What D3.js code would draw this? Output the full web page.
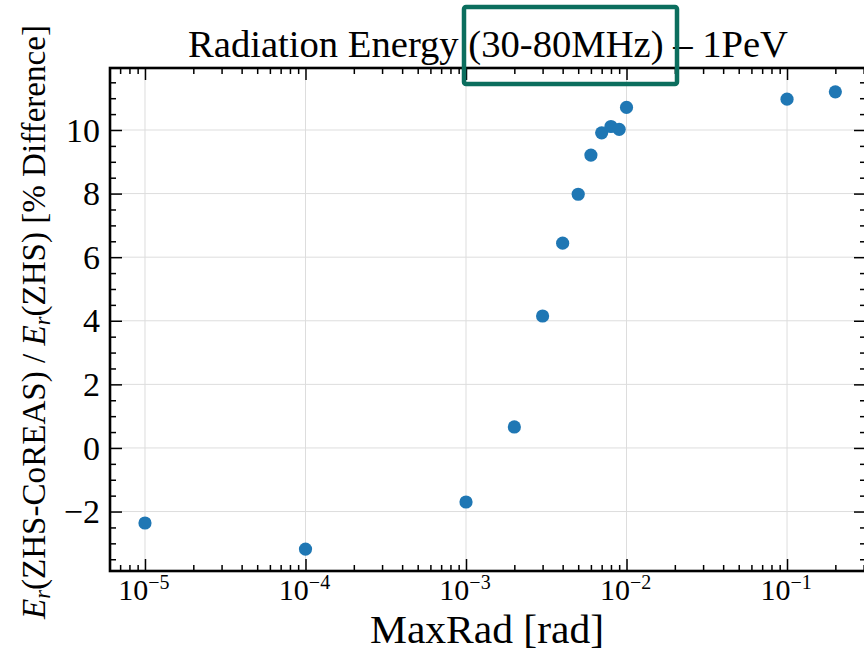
<!DOCTYPE html>
<html>
<head>
<meta charset="utf-8">
<script src="https://cdn.jsdelivr.net/npm/d3@7"></script>
<style>
  html, body { margin: 0; padding: 0; background: #ffffff; }
  svg { display: block; }
  text { font-family: "Liberation Serif", "DejaVu Serif", serif; fill: #000; }
</style>
</head>
<body>
<svg id="chart" width="864" height="655"></svg>
<script>
// ---- data ----
const maxRad = [1e-5, 1e-4, 1e-3, 2e-3, 3e-3, 4e-3, 5e-3, 6e-3, 7e-3, 8e-3, 9e-3, 1e-2, 1e-1, 2e-1];
const pctDiff = [-2.36, -3.18, -1.70, 0.66, 4.15, 6.44, 7.98, 9.21, 9.91, 10.11, 10.02, 10.71, 10.97, 11.20];
const xMajorExp = [-5, -4, -3, -2, -1];
const yTicks = [-2, 0, 2, 4, 6, 8, 10];
const titleText = "Radiation Energy (30-80MHz) \u2013 1PeV";
const xLabelText = "MaxRad [rad]";

// ---- layout ----
const L = 110, R = 866, T = 68, B = 571;
const svg = d3.select("#chart");

const x = d3.scaleLog().domain([Math.pow(10, -5.218), Math.pow(10, -0.508)]).range([L, R]);
const y = d3.scaleLinear().domain([-3.87, 11.95]).range([B, T]);

// minor ticks
const xMinor = [];
for (let e = -6; e <= 0; e++) for (let m = 2; m <= 9; m++) {
  const v = m * Math.pow(10, e);
  if (v >= x.domain()[0] && v <= x.domain()[1]) xMinor.push(v);
}
const xMajor = xMajorExp.map(e => Math.pow(10, e));
const yMinor = d3.range(-3.5, 12, 0.5).filter(v => v >= y.domain()[0] && v <= y.domain()[1] && !yTicks.includes(v));
const yMajorAll = d3.range(-2, 12, 2).filter(v => v <= y.domain()[1]);

// grid
const grid = svg.append("g");
grid.selectAll(".gx").data(xMajor).join("line")
  .attr("x1", d => x(d)).attr("x2", d => x(d)).attr("y1", T).attr("y2", B)
  .attr("stroke", "#dddddd").attr("stroke-width", 1);
grid.selectAll(".gy").data(yMajorAll).join("line")
  .attr("x1", L).attr("x2", R).attr("y1", d => y(d)).attr("y2", d => y(d))
  .attr("stroke", "#dddddd").attr("stroke-width", 1);

// axes with inward ticks
const axB = svg.append("g").attr("transform", `translate(0,${B})`);
axB.call(d3.axisTop(x).tickValues(xMajor).tickSize(12).tickFormat(""));
const axBm = svg.append("g").attr("transform", `translate(0,${B})`);
axBm.call(d3.axisTop(x).tickValues(xMinor).tickSize(6).tickFormat(""));
const axT = svg.append("g").attr("transform", `translate(0,${T})`);
axT.call(d3.axisBottom(x).tickValues(xMajor).tickSize(12).tickFormat(""));
const axTm = svg.append("g").attr("transform", `translate(0,${T})`);
axTm.call(d3.axisBottom(x).tickValues(xMinor).tickSize(6).tickFormat(""));
const axL = svg.append("g").attr("transform", `translate(${L},0)`);
axL.call(d3.axisRight(y).tickValues(yMajorAll).tickSize(12).tickFormat(""));
const axLm = svg.append("g").attr("transform", `translate(${L},0)`);
axLm.call(d3.axisRight(y).tickValues(yMinor).tickSize(6).tickFormat(""));
const axR = svg.append("g").attr("transform", `translate(${R},0)`);
axR.call(d3.axisLeft(y).tickValues(yMajorAll).tickSize(12).tickFormat(""));
const axRm = svg.append("g").attr("transform", `translate(${R},0)`);
axRm.call(d3.axisLeft(y).tickValues(yMinor).tickSize(6).tickFormat(""));
[axB, axT, axL, axR, axBm, axTm, axLm, axRm].forEach(g => {
  g.select(".domain").remove();
  g.selectAll(".tick line").attr("stroke", "#000").attr("stroke-width", 1.5);
});

// spines
svg.append("rect").attr("x", L).attr("y", T).attr("width", R - L).attr("height", B - T)
  .attr("fill", "none").attr("stroke", "#000").attr("stroke-width", 2.6);

// tick labels - x
const xl = svg.append("g");
xMajorExp.forEach(e => {
  const t = xl.append("text").attr("x", x(Math.pow(10, e)) - 1).attr("y", 600)
    .attr("text-anchor", "middle").style("font-size", "30px");
  t.append("tspan").text("10");
  t.append("tspan").attr("dy", -11).style("font-size", "20px").text("\u2212" + Math.abs(e));
});

// tick labels - y
svg.append("g").selectAll("text").data(yTicks).join("text")
  .attr("x", 100).attr("y", d => y(d)).attr("dy", "0.34em")
  .attr("text-anchor", "end").style("font-size", "34px")
  .text(d => d < 0 ? "\u2212" + Math.abs(d) : String(d));

// points
svg.append("g").selectAll("circle").data(maxRad.map((v, i) => [v, pctDiff[i]])).join("circle")
  .attr("cx", d => x(d[0])).attr("cy", d => y(d[1])).attr("r", 6.6)
  .attr("fill", "#1f77b4");

// title
svg.append("text").attr("x", 488).attr("y", 57).attr("text-anchor", "middle")
  .attr("textLength", 600).attr("lengthAdjust", "spacingAndGlyphs")
  .style("font-size", "38px").text(titleText);

// x label
svg.append("text").attr("x", 487).attr("y", 643).attr("text-anchor", "middle")
  .attr("textLength", 234).attr("lengthAdjust", "spacingAndGlyphs")
  .style("font-size", "40px").text(xLabelText);

// y label
const yl = svg.append("text").attr("transform", "translate(45,322) rotate(-90)")
  .attr("text-anchor", "middle").attr("textLength", 594).attr("lengthAdjust", "spacingAndGlyphs")
  .style("font-size", "34px");
yl.append("tspan").style("font-style", "italic").text("E");
yl.append("tspan").attr("dy", 5).style("font-size", "23px").style("font-style", "italic").text("r");
yl.append("tspan").attr("dy", -5).text("(ZHS-CoREAS) / ");
yl.append("tspan").style("font-style", "italic").text("E");
yl.append("tspan").attr("dy", 5).style("font-size", "23px").style("font-style", "italic").text("r");
yl.append("tspan").attr("dy", -5).text("(ZHS) [% Difference]");

// highlight box
svg.append("rect").attr("x", 464).attr("y", 7).attr("width", 213).attr("height", 77)
  .attr("rx", 2).attr("fill", "none").attr("stroke", "#0b6e5e").attr("stroke-width", 4.5);
</script>
</body>
</html>
